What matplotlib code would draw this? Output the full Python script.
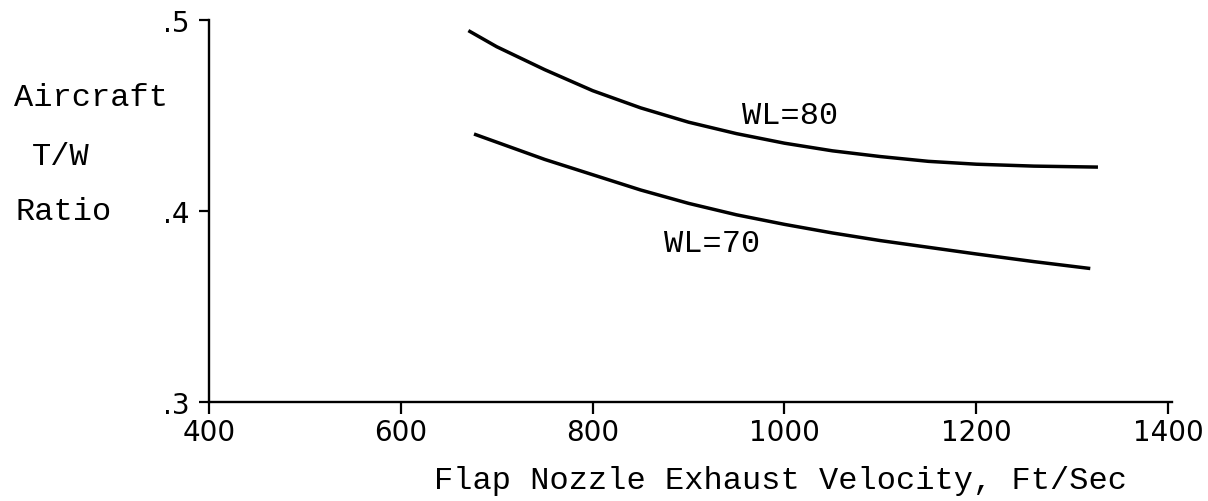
import matplotlib.pyplot as plt

# values
vel_80 = [672, 700, 750, 800, 850, 900, 950, 1000, 1050, 1100, 1150, 1200, 1260, 1325]
tw_80 = [0.494, 0.486, 0.474, 0.463, 0.454, 0.4465, 0.4405, 0.4355, 0.4315, 0.4285,
         0.426, 0.4245, 0.4235, 0.423]

vel_70 = [678, 750, 800, 850, 900, 950, 1000, 1050, 1100, 1150, 1200, 1260, 1317]
tw_70 = [0.440, 0.427, 0.419, 0.411, 0.404, 0.398, 0.393, 0.3885, 0.3845, 0.381, 0.3775,
         0.3735, 0.370]

x_ticks = [400, 600, 800, 1000, 1200, 1400]
y_ticks = [0.3, 0.4, 0.5]
y_tick_labels = ['.3', '.4', '.5']

mono = 'Liberation Mono'
W, H = 1208, 502

fig = plt.figure(figsize=(W / 100, H / 100), dpi=100)
ax = fig.add_axes([209 / W, 1 - 403 / H, (1172 - 209) / W, (403 - 21) / H])

ax.plot(vel_80, tw_80, color='black', lw=2.5)
ax.plot(vel_70, tw_70, color='black', lw=2.5)

ax.text(1006, 0.450, 'WL=80', family=mono, fontsize=23, ha='center', va='center')
ax.text(925, 0.383, 'WL=70', family=mono, fontsize=23, ha='center', va='center')

ax.set_xlim(400, 1404)
ax.set_ylim(0.3, 0.5)
ax.set_xticks(x_ticks)
ax.set_xticklabels([str(t) for t in x_ticks], family='DejaVu Sans', fontsize=20)
ax.set_yticks(y_ticks)
ax.set_yticklabels(y_tick_labels, family='DejaVu Sans', fontsize=20)
ax.tick_params(axis='x', direction='out', length=8.5, width=1.6, pad=3)
ax.tick_params(axis='y', direction='out', length=7, width=1.6, pad=7)

for side in ['top', 'right']:
    ax.spines[side].set_visible(False)
for side in ['left', 'bottom']:
    ax.spines[side].set_linewidth(1.7)

# y label written as three lines, like the original
fig.text(91 / W, 1 - 98 / H, 'Aircraft', family=mono, fontsize=23, ha='center', va='center')
fig.text(61 / W, 1 - 157 / H, 'T/W', family=mono, fontsize=23, ha='center', va='center')
fig.text(64 / W, 1 - 212 / H, 'Ratio', family=mono, fontsize=23, ha='center', va='center')

fig.text(780 / W, 1 - 481 / H, 'Flap Nozzle Exhaust Velocity, Ft/Sec', family=mono,
         fontsize=23, ha='center', va='center')

fig.savefig('out.png', dpi=100)
